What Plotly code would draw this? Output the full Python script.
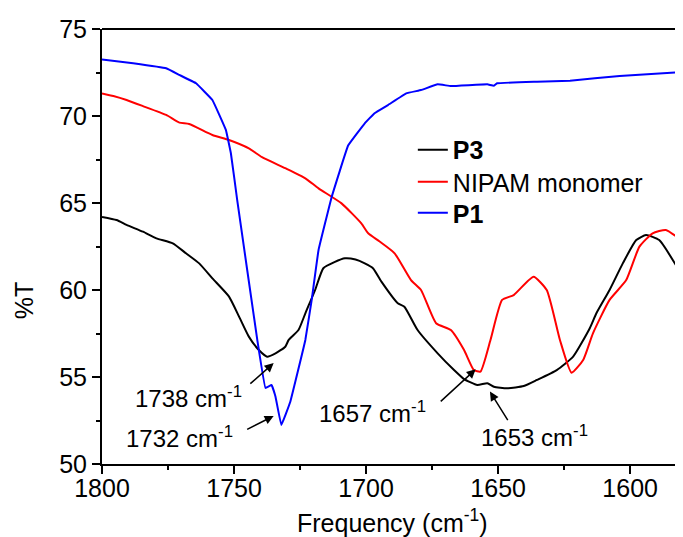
import plotly.graph_objects as go

# ---- data ----
p3_x = [1800, 1794.5, 1790.7, 1784.5, 1779.4, 1773.2, 1768.2, 1763.2, 1758.2, 1751.9,
        1748.1, 1744.4, 1740.6, 1737.5, 1734.3, 1730.6, 1729.3, 1725.6, 1723.0, 1719.3,
        1716.2, 1712.0, 1708.0, 1704.0, 1700.5, 1697.4, 1694.2, 1688.0, 1685.5, 1680.5,
        1672.9, 1666.7, 1662.9, 1657.9, 1654.1, 1651.6, 1646.6, 1640.3, 1635.3, 1627.8,
        1621.6, 1615.3, 1612.8, 1607.8, 1602.8, 1597.7, 1594.0, 1589.0, 1581.6]
p3_y = [64.20, 64.02, 63.74, 63.35, 62.97, 62.68, 62.11, 61.53, 60.67, 59.62,
        58.47, 57.32, 56.55, 56.17, 56.36, 56.74, 57.13, 57.70, 58.66, 60.00,
        61.25, 61.60, 61.82, 61.75, 61.53, 61.25, 60.48, 59.24, 59.04, 57.70,
        56.36, 55.40, 54.88, 54.54, 54.64, 54.44, 54.35, 54.48, 54.83, 55.40,
        56.17, 57.80, 58.66, 60.00, 61.53, 62.87, 63.16, 62.87, 61.15]

nipam_x = [1800, 1795.7, 1790.7, 1784.5, 1775.7, 1770.7, 1767.0, 1758.2, 1751.9, 1744.4,
           1739.4, 1730.6, 1723.0, 1718.0, 1709.3, 1701.8, 1699.2, 1695.0, 1689.2, 1683.0,
           1679.2, 1673.5, 1667.9, 1662.9, 1659.2, 1656.7, 1652.9, 1648.5, 1644.1, 1636.6,
           1631.6, 1626.6, 1622.2, 1617.8, 1614.1, 1607.8, 1601.5, 1596.5, 1591.5, 1586.5,
           1581.6]
nipam_y = [71.30, 71.15, 70.92, 70.57, 70.06, 69.62, 69.54, 68.91, 68.62, 68.14,
           67.63, 67.00, 66.42, 65.84, 64.98, 63.83, 63.26, 62.80, 62.11, 60.57,
           60.00, 58.09, 57.70, 56.55, 55.40, 55.31, 57.13, 59.43, 59.71, 60.76,
           60.00, 57.13, 55.25, 55.98, 57.51, 59.43, 60.57, 62.49, 63.26, 63.45,
           62.97]

p1_x = [1800, 1788.2, 1775.7, 1770.7, 1764.4, 1758.2, 1753.1, 1751.2, 1748.8, 1741.2,
        1738.1, 1735.8, 1734.3, 1732.1, 1728.7, 1723.0, 1720.6, 1718.0, 1713.0, 1706.8,
        1700.5, 1696.8, 1691.7, 1684.8, 1679.2, 1672.9, 1667.9, 1654.1, 1651.6, 1650.4,
        1635.3, 1622.8, 1604.0, 1581.5]
p1_y = [73.25, 73.03, 72.74, 72.36, 71.88, 70.92, 69.20, 67.86, 65.17, 57.13,
        54.37, 54.54, 53.87, 52.24, 53.58, 57.13, 59.43, 62.30, 65.36, 68.30,
        69.58, 70.16, 70.63, 71.30, 71.49, 71.82, 71.72, 71.82, 71.74, 71.88,
        71.97, 72.03, 72.30, 72.51]

x_ticks = [1800, 1750, 1700, 1650, 1600]
y_ticks = [50, 55, 60, 65, 70, 75]

FONT = "Liberation Sans, Arial, sans-serif"

fig = go.Figure()
fig.add_trace(go.Scatter(x=p3_x, y=p3_y, mode="lines", name="<b>P3</b>", legend="legend",
                         line=dict(color="black", width=2, shape="spline", smoothing=0.5)))
fig.add_trace(go.Scatter(x=nipam_x, y=nipam_y, mode="lines", name="NIPAM monomer", legend="legend2",
                         line=dict(color="#ff0000", width=2, shape="spline", smoothing=0.5)))
fig.add_trace(go.Scatter(x=p1_x, y=p1_y, mode="lines", name="<b>P1</b>", legend="legend3",
                         line=dict(color="#0000ff", width=2, shape="spline", smoothing=0.2)))

axis_common = dict(showline=True, linecolor="black", linewidth=2, ticks="outside",
                   ticklen=8, tickwidth=2, tickcolor="black", showgrid=False, zeroline=False,
                   automargin=False,
                   tickfont=dict(family=FONT, size=25, color="black"))

fig.update_xaxes(range=[1800, 1580], tickvals=x_ticks, ticklabelstandoff=-7,
                 minor=dict(ticks="outside", ticklen=4, tickwidth=2, tickcolor="black", dtick=25),
                 **axis_common)
fig.update_yaxes(range=[50, 75], tickvals=y_ticks,
                 minor=dict(ticks="outside", ticklen=4, tickwidth=2, tickcolor="black", dtick=2.5),
                 **axis_common)

# top frame line
fig.add_shape(type="line", xref="paper", yref="paper", x0=0, x1=1, y0=1, y1=1,
              line=dict(color="black", width=2))

anns = []
# axis titles
anns.append(dict(text="%T", xref="paper", yref="y", x=-0.133, y=59.4, showarrow=False,
                 xanchor="center", yanchor="middle",
                 textangle=-90, font=dict(family=FONT, size=25, color="black")))
anns.append(dict(text="Frequency (cm<sup>-1</sup>)", xref="paper", yref="paper", x=0.5, y=-0.13,
                 showarrow=False, xanchor="center", yanchor="middle",
                 font=dict(family=FONT, size=25, color="black")))
# peak labels
labels = [("1738 cm<sup>-1</sup>", 1767.3, 53.85), ("1732 cm<sup>-1</sup>", 1770.7, 51.55),
          ("1657 cm<sup>-1</sup>", 1697.7, 52.99), ("1653 cm<sup>-1</sup>", 1636.1, 51.61)]
for t, x, y in labels:
    anns.append(dict(text=t, x=x, y=y, xref="x", yref="y", showarrow=False,
                     font=dict(family=FONT, size=24, color="black")))
arrows = [(1735.0, 55.8, 1744.4, 54.54), (1735.0, 52.76, 1745.6, 51.95),
          (1658.5, 55.44, 1672.3, 53.52), (1653.1, 54.16, 1646.0, 52.43)]
for hx, hy, tx, ty in arrows:
    anns.append(dict(text="", x=hx, y=hy, ax=tx, ay=ty, xref="x", yref="y",
                     axref="x", ayref="y", showarrow=True, arrowhead=2, arrowsize=1.2,
                     arrowwidth=1.5, arrowcolor="black"))
fig.update_layout(annotations=anns)

leg_common = dict(x=0.535, xanchor="left", yanchor="middle", bgcolor="rgba(0,0,0,0)",
                  font=dict(family=FONT, size=25, color="black"), itemwidth=30)

# page body has an 8px default margin, so the figure is drawn 8px smaller and shifted
fig.update_layout(
    width=675, height=529,
    margin=dict(l=94, r=0, t=21, b=73, autoexpand=False),
    paper_bgcolor="white", plot_bgcolor="white",
    font=dict(family=FONT, color="black"),
    legend=dict(y=0.722, **leg_common),
    legend2=dict(y=0.648, **leg_common),
    legend3=dict(y=0.577, **leg_common),
    showlegend=True,
)

fig.write_html("out.html")
